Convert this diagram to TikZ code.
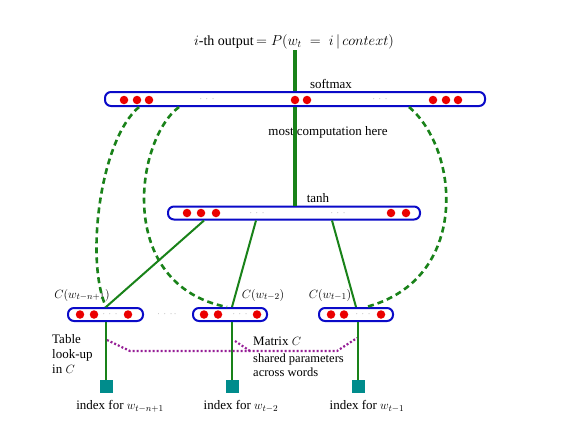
\documentclass[tikz,border=0pt]{standalone}
\usepackage{fontspec}
\setmainfont{Liberation Serif}
\usetikzlibrary{calc}
\definecolor{bbar}{RGB}{10,10,200}
\definecolor{gline}{RGB}{25,130,25}
\definecolor{reddot}{RGB}{235,0,0}
\definecolor{sqcol}{RGB}{0,140,140}
\definecolor{purp}{RGB}{150,30,150}
\begin{document}
\begin{tikzpicture}[x=1pt,y=-1pt,
  bar/.style={draw=bbar, line width=2pt, rounded corners=6pt, minimum height=13pt, inner sep=0pt, fill=white},
  rdot/.style={circle, fill=reddot, minimum size=8.5pt, inner sep=0pt},
  sqbox/.style={fill=sqcol, minimum size=13pt, inner sep=0pt},
  gsolid/.style={draw=gline, line width=2pt},
  gthick/.style={draw=gline, line width=3.2pt},
  gdash/.style={draw=gline, line width=2.6pt, dash pattern=on 6pt off 4pt},
  pdot/.style={draw=purp, line width=2.2pt, dash pattern=on 2pt off 2pt},
  lbl/.style={font=\fontsize{13}{15}\selectfont, inner sep=1pt},
  ell/.style={text=black!45, font=\small, inner sep=0pt}
]
\useasboundingbox (0,0) rectangle (564,426);
\fill[white] (0,0) rectangle (564,426);

% bars
\node[bar, minimum width=380pt, minimum height=14pt] (top) at (295,99) {};
\node[bar, minimum width=252pt] (tanh) at (294,213) {};
\node[bar, minimum width=75pt] (lb) at (105.5,314.5) {};
\node[bar, minimum width=74pt] (mb) at (230,314.5) {};
\node[bar, minimum width=74pt] (rb) at (356,314.5) {};

% dots top
\foreach \x [count=\i] in {124,137,149,295,307,433,446,458}
  \node[rdot] (td\i) at (\x,100) {};
\node[ell] (te1) at (207,99) {$\cdot\,\cdot\,\cdot$};
\node[ell] (te2) at (380,99) {$\cdot\,\cdot\,\cdot$};
% dots tanh
\foreach \x [count=\i] in {187,201,216,391,406}
  \node[rdot] (hd\i) at (\x,213) {};
\node[ell] (he1) at (257,213) {$\cdot\,\cdot\,\cdot$};
\node[ell] (he2) at (338,213) {$\cdot\,\cdot\,\cdot$};
% dots bottom
\foreach \x [count=\i] in {80,94,128}
  \node[rdot] (ld\i) at (\x,314.5) {};
\node[ell] (le) at (110,314.5) {$\cdot\,\cdot\,\cdot$};
\foreach \x [count=\i] in {204,218,257}
  \node[rdot] (md\i) at (\x,314.5) {};
\node[ell] (me) at (240,314.5) {$\cdot\,\cdot\,\cdot$};
\foreach \x [count=\i] in {331,344,381}
  \node[rdot] (rd\i) at (\x,314.5) {};
\node[ell] (re) at (363,314.5) {$\cdot\,\cdot\,\cdot$};
\node[ell] (between) at (167,314.5) {$\cdot\,\cdot\,\cdot\,\cdot$};

% input squares
\node[sqbox] (s1) at (106,386.5) {};
\node[sqbox] (s2) at (232,386.5) {};
\node[sqbox] (s3) at (358,386.5) {};

% labels
\node[lbl, font=\fontsize{14}{16}\selectfont] (title) at (294,42) {$i$-th output$\,=P(w_t\;=\;i\,|\,context)$};
\node[lbl] (softmax) at (331,84) {softmax};
\node[lbl] (most) at (328,132) {most computation here};
\node[lbl] (tanhl) at (318,198) {tanh};
\node[lbl] (c1) at (82,295) {$C(w_{t-n+1})$};
\node[lbl] (c2) at (263,295) {$C(w_{t-2})$};
\node[lbl] (c3) at (330,295) {$C(w_{t-1})$};
\node[lbl] (i1) at (120,406) {index for $w_{t-n+1}$};
\node[lbl] (i2) at (241,406) {index for $w_{t-2}$};
\node[lbl] (i3) at (367,406) {index for $w_{t-1}$};
\node[lbl, anchor=north west, align=left] (table) at (51,333) {Table\\ look-up\\ in $C$};
\node[lbl, anchor=west] (matrix) at (252,341) {Matrix $C$};
\node[lbl, anchor=north west, align=left, font=\fontsize{12.5}{14}\selectfont] (shared) at (252,353) {shared parameters\\across words};

% vertical thick arrows
\draw[gthick] (top.north) -- (top.north |- title.south);
\draw[gthick] (tanh.north -| top.north) -- (top.south);

% inputs
\draw[gsolid] (s1.north) -- (s1.north |- lb.south);
\draw[gsolid] (s2.north) -- (s2.north |- mb.south);
\draw[gsolid] (s3.north) -- (s3.north |- rb.south);

% to tanh
\draw[gsolid] (s1.north |- lb.north) -- ($(tanh.south west)+(37,0)$);
\draw[gsolid] (s2.north |- mb.north) -- ($(tanh.south west)+(89,0)$);
\draw[gsolid] ($(rb.north west)+(38,0)$) -- ($(tanh.south west)+(165,0)$);

% dashed skip connections
\draw[gdash] ($(top.south west)+(35,0)$) .. controls (100,140) and (85,260) .. (s1.north |- lb.north);
\draw[gdash] ($(top.south west)+(75,0)$) .. controls (135,140) and (115,285) .. ($(mb.north west)+(35,0)$);
\draw[gdash] ($(top.south west)+(305,0)$) .. controls (460,150) and (470,280) .. ($(rb.north west)+(48,0)$);

% purple shared parameters
\coordinate (p1) at (107,340);
\coordinate (p2) at (130,351);
\coordinate (p3) at (337,351);
\coordinate (p4) at (357,338);
\coordinate (p5) at (235,341);
\coordinate (p6) at (250,351);
\draw[pdot] (p1) -- (p2) -- (p3) -- (p4);
\draw[pdot] (p5) -- (p6);
\end{tikzpicture}
\end{document}
